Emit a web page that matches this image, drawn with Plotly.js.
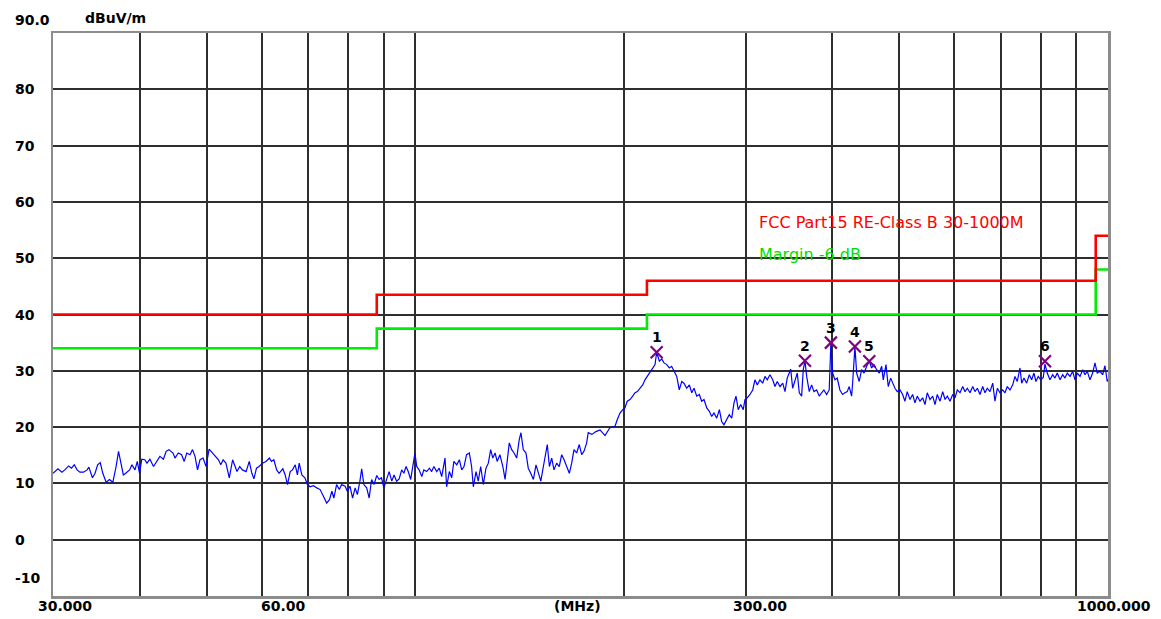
<!DOCTYPE html>
<html>
<head>
<meta charset="utf-8">
<script src="https://cdn.plot.ly/plotly-3.0.1.min.js"></script>
<style>html,body{margin:0;padding:0;background:#fff;}#chart{width:1161px;height:619px;}</style>
</head>
<body>
<div id="chart"></div>
<script>
// ---- Data ----
const freqMHz = [
30.0,30.2,30.5,30.9,31.2,31.6,31.9,32.2,32.5,32.8,33.2,33.6,33.8,34.2,34.5,34.8,35.1,35.4,35.8,36.2,
36.6,37.0,37.3,37.6,37.9,38.2,38.7,39.0,39.4,39.7,40.0,40.3,40.7,41.0,41.4,41.9,42.3,42.8,43.3,43.7,
44.1,44.7,45.0,45.5,46.0,46.4,46.8,47.3,47.7,48.1,48.5,48.9,49.4,49.9,50.4,51.0,51.6,52.0,52.4,52.8,
53.3,53.9,54.5,54.9,55.3,55.8,56.3,57.0,57.6,58.1,58.5,59.0,59.5,60.2,60.9,61.6,62.0,62.5,63.1,63.6,
64.4,64.9,65.4,66.0,66.5,67.1,67.6,68.0,68.6,69.3,69.9,70.5,71.3,72.1,72.9,73.7,74.5,75.2,75.8,76.3,
77.0,77.7,78.3,79.2,79.8,80.5,81.2,81.9,82.5,83.2,83.7,84.3,85.1,85.8,86.5,87.2,88.0,88.7,89.4,90.1,
90.9,91.7,92.5,93.2,94.0,94.8,95.6,96.3,97.0,97.7,98.5,99.3,99.9,100.5,101.3,102.2,102.9,103.9,104.8,105.6,
106.4,107.4,108.3,109.2,110.4,111.0,112.0,112.9,113.7,114.8,115.8,116.7,117.6,118.6,119.7,120.6,121.3,122.4,123.3,124.3,
125.4,126.5,127.5,128.5,129.4,130.4,131.3,132.5,133.8,134.8,135.8,136.7,137.8,138.9,140.1,141.3,142.1,143.2,144.5,145.6,
146.8,148.1,149.4,150.5,151.8,153.1,154.5,155.1,156.2,157.4,158.6,160.0,161.4,162.7,164.0,165.5,166.9,168.2,169.5,171.0,
172.5,173.9,175.2,176.8,177.7,179.9,182.3,184.8,187.9,191.0,194.2,195.7,197.5,199.3,200.8,202.3,204.2,206.0,207.6,209.2,
211.1,213.0,214.6,216.2,218.2,220.2,221.9,223.1,225.1,226.9,228.6,230.7,232.7,234.5,236.3,238.5,240.5,242.5,244.3,246.5,
248.7,250.7,252.6,254.9,257.1,259.1,261.1,263.5,265.8,267.9,269.9,272.4,274.8,276.9,279.0,281.5,284.0,286.3,288.5,290.4,
292.6,295.0,297.5,299.2,301.5,304.2,307.0,309.3,311.7,314.5,317.3,319.8,322.2,325.1,328.1,330.6,333.1,336.2,339.2,341.8,
344.3,346.6,348.3,350.6,353.3,356.0,358.4,361.2,363.2,365.2,367.3,370.5,373.4,376.3,379.7,383.0,386.0,389.0,392.5,395.9,
398.1,400.4,403.5,406.6,410.2,413.9,417.1,420.3,423.1,426.5,427.9,431.2,433.7,437.4,440.9,444.4,448.4,452.3,455.8,459.4,
463.5,467.6,471.3,473.8,478.1,481.7,485.6,488.8,492.6,496.4,500.8,505.3,509.2,513.1,517.8,522.4,526.4,530.5,535.3,540.1,
544.3,548.4,553.4,558.4,562.7,567.0,572.2,577.3,581.8,586.2,591.5,596.8,601.4,606.0,611.5,617.0,621.7,626.5,632.2,637.9,
642.7,647.7,653.5,659.3,664.4,669.5,675.5,681.7,686.8,692.2,698.4,704.7,710.1,715.5,722.0,728.5,734.1,739.7,746.3,750.6,
756.3,763.1,769.8,775.9,781.8,787.0,793.1,799.5,806.4,811.0,817.2,824.5,832.0,838.4,844.8,852.6,860.2,866.8,873.4,881.4,
889.3,896.1,903.0,911.2,919.4,926.4,933.5,941.8,950.3,957.6,964.9,973.6,982.4,989.9,997.5,1000.0
];
const levelDbuV = [
11.8,12.1,12.6,12.0,12.4,13.1,12.7,13.3,12.4,12.0,12.0,12.4,12.9,11.0,11.8,13.3,13.7,11.8,10.2,10.7,
10.2,13.0,15.7,13.6,11.5,11.8,12.4,13.3,12.4,13.9,11.8,14.3,14.2,13.6,14.3,13.0,13.9,14.8,14.3,15.7,
16.0,15.4,14.5,15.4,15.1,13.9,15.4,15.1,16.0,14.8,12.4,14.2,14.5,13.0,16.1,15.4,14.8,14.2,13.3,14.2,
13.6,11.0,14.2,13.0,12.1,13.0,12.4,12.1,13.9,11.8,10.8,12.7,13.0,13.6,13.9,14.5,13.9,14.2,12.4,11.8,
12.6,11.5,9.8,12.1,12.4,13.3,11.5,13.6,11.5,11.0,9.8,9.4,9.6,9.2,8.9,7.7,6.5,7.1,8.6,7.4,
9.8,8.9,9.8,9.5,8.6,9.5,7.4,9.2,8.0,10.4,12.6,9.8,9.2,7.4,10.7,9.8,11.4,10.7,11.0,9.2,
10.7,12.1,10.4,11.5,10.4,10.8,12.4,11.8,13.0,12.1,10.7,13.9,15.4,13.0,12.4,11.2,12.4,12.1,12.7,12.1,
13.0,12.1,12.7,11.2,14.5,9.4,12.1,11.0,13.9,13.3,14.2,12.4,13.0,15.1,15.4,13.0,9.4,12.1,10.4,13.0,
9.8,12.7,13.6,16.0,14.5,15.4,13.9,15.1,13.0,10.7,13.9,17.2,16.0,15.4,14.5,17.8,19.0,16.0,15.4,12.7,
11.8,10.7,13.3,12.1,10.4,13.0,15.4,16.9,13.0,14.5,12.4,13.6,13.0,15.1,14.2,13.0,11.8,13.6,16.0,15.4,
16.9,15.1,15.7,17.2,19.0,18.7,19.2,19.5,18.5,19.9,20.1,21.3,22.5,23.1,23.4,24.6,24.9,25.5,26.1,26.3,
26.9,27.5,28.4,29.0,29.9,30.5,31.1,33.3,31.7,32.1,31.4,31.1,30.5,30.8,29.9,29.0,26.6,28.1,27.8,26.9,
27.5,26.1,26.9,25.5,25.8,24.6,24.9,23.4,22.8,21.9,22.5,21.6,23.1,21.0,20.4,21.3,22.2,21.6,24.3,25.5,
23.1,24.0,23.1,24.9,25.2,25.8,26.6,28.4,27.5,28.4,27.8,29.0,28.4,29.3,28.4,27.2,28.1,27.2,27.8,26.3,
28.7,29.6,30.3,26.9,28.4,29.6,26.1,25.5,30.2,31.8,29.0,26.3,27.5,26.3,26.6,25.5,26.1,26.6,25.8,26.6,
35.0,29.6,28.4,28.7,26.6,25.8,26.1,26.3,27.2,25.5,27.8,34.3,29.6,28.1,30.2,29.6,30.8,31.7,30.5,31.1,
30.2,29.6,30.8,28.4,31.1,27.2,28.7,27.8,26.9,26.3,26.6,25.8,24.6,26.3,24.9,25.8,24.3,25.5,24.6,25.2,
24.0,26.1,24.9,25.5,24.0,25.8,24.6,26.3,24.9,25.5,24.6,25.8,25.2,26.6,26.1,27.2,26.3,26.9,26.1,27.2,
26.3,26.9,25.8,27.2,26.1,26.9,26.3,27.8,24.6,26.9,26.1,26.6,26.1,27.2,26.6,27.5,29.0,28.1,30.5,27.8,
28.7,27.8,29.3,28.4,29.6,28.1,29.0,28.4,28.8,31.2,29.6,28.4,29.3,28.7,29.6,28.4,29.3,28.7,29.6,29.0,
29.9,28.4,29.6,29.0,30.2,29.3,29.9,28.4,29.6,31.4,29.6,29.9,29.3,30.9,28.1,28.5
];

// Limit lines (FCC Part15 Class B and -6 dB margin), step-wise
const limitFreq   = [30, 88, 216, 960, 1000];
const limitClassB = [40, 43.5, 46, 54, 54];
const limitMargin = [34, 37.5, 40, 48, 48];

// Peak markers
const markerFreq  = [223.1, 365.2, 398.1, 431.2, 452.3, 811.0];
const markerLevel = [33.3, 31.8, 35.0, 34.3, 31.7, 31.7];
const markerText  = ['1', '2', '3', '4', '5', '6'];

// Grid and labels
const xGridVals = [40,50,60,70,80,90,100,200,300,400,500,600,700,800,900];
const yGridVals = [0,10,20,30,40,50,60,70,80];
const yLabelVals = [90,80,70,60,50,40,30,20,10,0,-10];
const yLabelText = ['90.0','80','70','60','50','40','30','20','10','0','-10'];
const xLabelVals = [30, 60, 300, 1000];
const xLabelText = ['30.000', '60.00', '300.00', '1000.000'];
const xLabelShift = [12, 22, 14, 6];
const yUnit = 'dBuV/m';
const xUnit = '(MHz)';
const legendLimit = 'FCC Part15 RE-Class B 30-1000M';
const legendMargin = 'Margin -6 dB';

// ---- Traces ----
const traces = [
  {x: freqMHz, y: levelDbuV, type: 'scatter', mode: 'lines',
   line: {color: '#0000ff', width: 1.2}, hoverinfo: 'skip'},
  {x: limitFreq, y: limitMargin, type: 'scatter', mode: 'lines',
   line: {color: '#00ee00', width: 2.6, shape: 'hv'}, hoverinfo: 'skip'},
  {x: limitFreq, y: limitClassB, type: 'scatter', mode: 'lines',
   line: {color: '#ff0000', width: 2.6, shape: 'hv'}, hoverinfo: 'skip'},
  {x: markerFreq, y: markerLevel, type: 'scatter', mode: 'markers',
   marker: {symbol: 'x-thin-open', size: 12, color: '#800080',
            line: {color: '#800080', width: 2.2}}, hoverinfo: 'skip'}
];

const boldFont = {family: '"DejaVu Sans", sans-serif', size: 14, color: '#000', weight: 'bold'};
const annotations = [];

yLabelVals.forEach((v, i) => {
  let ys = 0;
  if (v === 90) ys = 13;
  if (v === -10) ys = 18;
  annotations.push({xref: 'paper', yref: 'y', x: -40/1055, y: v, yshift: ys,
    xanchor: 'left', yanchor: 'middle', showarrow: false,
    text: '<b>' + yLabelText[i] + '</b>', font: boldFont});
});
annotations.push({xref: 'paper', yref: 'y', x: 30/1055, y: 90, yshift: 15,
  xanchor: 'left', yanchor: 'middle', showarrow: false,
  text: '<b>' + yUnit + '</b>', font: boldFont});

xLabelVals.forEach((v, i) => {
  annotations.push({xref: 'x', yref: 'paper', x: Math.log10(v), y: 0, yshift: -10,
    xshift: xLabelShift[i], xanchor: 'center', yanchor: 'middle', showarrow: false,
    text: '<b>' + xLabelText[i] + '</b>', font: boldFont});
});
annotations.push({xref: 'paper', yref: 'paper', x: 0.4976, y: 0, yshift: -10,
  xanchor: 'center', yanchor: 'middle', showarrow: false,
  text: '<b>' + xUnit + '</b>', font: boldFont});

annotations.push({xref: 'paper', yref: 'paper', x: (757-53)/1055, y: 0.663,
  xanchor: 'left', yanchor: 'middle', showarrow: false, text: legendLimit,
  font: {family: '"DejaVu Sans", sans-serif', size: 16, color: '#ff0000'}});
annotations.push({xref: 'paper', yref: 'paper', x: (757-53)/1055, y: 0.6057,
  xanchor: 'left', yanchor: 'middle', showarrow: false, text: legendMargin,
  font: {family: '"DejaVu Sans", sans-serif', size: 16, color: '#00dd00'}});

markerFreq.forEach((f, i) => {
  annotations.push({xref: 'x', yref: 'y', x: Math.log10(f), y: markerLevel[i], yshift: 15,
    xanchor: 'center', yanchor: 'middle', showarrow: false,
    text: '<b>' + markerText[i] + '</b>', font: boldFont});
});

const layout = {
  width: 1161, height: 619,
  margin: {l: 53, r: 53, t: 33, b: 23, pad: 0},
  paper_bgcolor: '#ffffff', plot_bgcolor: '#ffffff',
  showlegend: false,
  xaxis: {type: 'log', range: [Math.log10(30), Math.log10(1000)],
    tickmode: 'array', tickvals: xGridVals, showticklabels: false, ticks: '',
    showgrid: true, gridcolor: '#2e2e2e', gridwidth: 2, zeroline: false,
    showline: true, linecolor: '#8c8c8c', linewidth: 2.5, mirror: true, fixedrange: true},
  yaxis: {range: [-10, 90], tickmode: 'array', tickvals: yGridVals,
    showticklabels: false, ticks: '',
    showgrid: true, gridcolor: '#2e2e2e', gridwidth: 2, zeroline: false,
    showline: true, linecolor: '#8c8c8c', linewidth: 2.5, mirror: true, fixedrange: true},
  annotations: annotations
};

Plotly.newPlot('chart', traces, layout, {staticPlot: true, displayModeBar: false});
</script>
</body>
</html>
